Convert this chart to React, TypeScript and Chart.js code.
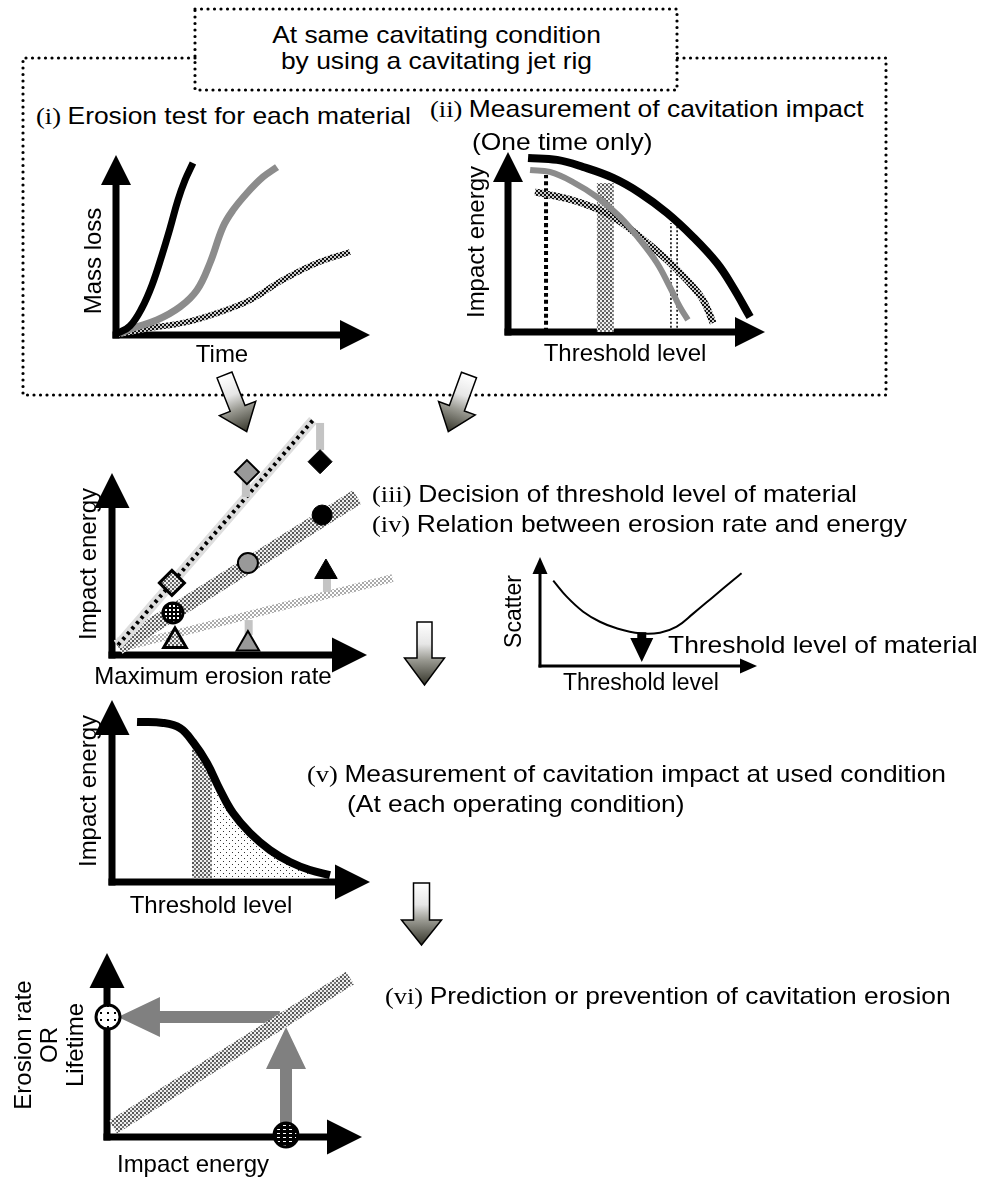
import React, { useEffect, useRef } from 'react';
import { Chart, registerables } from 'chart.js';

Chart.register(...registerables);

const SANS = '"Liberation Sans", Arial, Helvetica, sans-serif';
const SERIF = '"Liberation Serif", "Times New Roman", serif';
Chart.defaults.font.family = SANS;

// ---------------- (i) Erosion test: time vs mass loss ----------------
const timeBlack = [0.05, 0.55, 1.02, 1.42, 1.81, 2.13, 2.44, 2.72, 3.03];
const lossBlack = [0.08, 0.5, 1.5, 2.78, 4.44, 5.94, 7.5, 8.61, 9.56];
const timeGray = [0.15, 0.67, 1.61, 2.52, 3.19, 3.7, 4.21, 4.61, 5.16, 5.79, 6.34];
const lossGray = [0.08, 0.39, 0.83, 1.56, 2.5, 4.0, 6.0, 6.94, 7.89, 8.78, 9.33];
const timeCheck = [0.1, 1.34, 2.64, 3.98, 5.28, 6.57, 7.91, 9.21];
const lossCheck = [0.05, 0.39, 0.67, 1.22, 1.94, 3.06, 4.0, 4.61];

// ---------------- (ii) Impact energy vs threshold level ----------------
const thrBlack = [0.78, 1.91, 2.92, 4.09, 5.14, 6.19, 7.2, 8.13, 8.75, 9.42];
const energyBlack = [9.67, 9.56, 9.17, 8.56, 7.72, 6.61, 5.28, 3.83, 2.5, 0.83];
const thrGray = [0.86, 1.63, 2.53, 3.46, 4.36, 5.14, 5.8, 6.3, 6.69, 7.0];
const energyGray = [9.0, 8.89, 8.33, 7.5, 6.39, 5.11, 3.83, 2.5, 1.39, 0.67];
const thrCheck = [1.05, 2.02, 3.07, 4.09, 5.14, 6.19, 6.96, 7.59, 7.98];
const energyCheck = [7.78, 7.5, 7.06, 6.39, 5.28, 4.0, 2.89, 1.78, 0.5];
const thrDashed = 1.48;
const dashedTop = 8.72;
const thrBand = 3.79;
const bandTop = 8.28;
const thrDotted = [6.34, 6.58];
const dottedTop = 6.06;

// ---------------- (iii)/(iv) Impact energy vs maximum erosion rate ----------------
const relStartRate = [0.24, 0.24, 0.31];
const relStartEnergy = [0.55, 0.44, 0.38];
const relEndRate = [7.88, 9.61, 11.0];
const relEndEnergy = [12.9, 8.68, 4.23];
const markerRate = [5.29, 8.16, 8.24, 5.33, 8.39, 2.35, 2.39, 2.47, 5.33];
const markerEnergy = [10.05, 10.62, 7.69, 5.05, 4.56, 3.96, 2.31, 0.77, 0.6];
const shiftRate = [5.25, 8.16, 8.43, 5.36];
const shiftFrom = [8.68, 11.26, 3.46, 1.1];
const shiftTo = [9.62, 12.75, 4.23, 1.92];

// ---------------- Scatter vs threshold level ----------------
const scatterThr = [0.61, 1.23, 1.99, 2.76, 3.53, 4.61, 5.53, 6.3, 7.07, 7.99, 8.91, 9.29];
const scatterVal = [7.83, 6.36, 4.98, 4.06, 3.46, 3.0, 3.06, 3.61, 4.83, 6.36, 7.89, 8.51];
const optimumThr = 4.69;
const optimumFrom = 3.1;
const optimumTo = 0.37;

// ---------------- (v) Impact energy at used condition ----------------
const usedThr = [0.97, 1.98, 2.64, 3.14, 3.68, 4.19, 4.69, 5.35, 6.12, 6.9, 7.67, 8.45];
const usedEnergy = [8.79, 8.74, 8.46, 7.69, 6.54, 5.05, 3.79, 2.69, 1.76, 1.1, 0.66, 0.38];
const bandThr = [3.1, 3.4, 3.68, 3.88];
const bandEnergy = [7.55, 7.1, 6.54, 5.96];
const aboveThr = [3.88, 4.19, 4.69, 5.35, 6.12, 6.9, 7.67, 8.45];
const aboveEnergy = [5.96, 5.05, 3.79, 2.69, 1.76, 1.1, 0.66, 0.38];

// ---------------- (vi) Erosion rate / lifetime vs impact energy ----------------
const predEnergy = [0.24, 9.53];
const predRate = [0.54, 8.64];
const inputEnergy = 7.02;
const inputStart = 0.22;
const inputEnd = 5.98;
const outputRate = 6.52;
const outputStart = 6.78;
const outputEnd = 0.43;
const pointEnergy = [0.04, 7.02];
const pointRate = [6.52, 0.11];

const pts = (xs: number[], ys: number[]) => xs.map((x, i) => ({ x, y: ys[i] }));

function makePattern(w: number, h: number, bg: string, cells: [number, number, number, number, string][]) {
  const c = document.createElement('canvas');
  c.width = w;
  c.height = h;
  const g = c.getContext('2d')!;
  g.fillStyle = bg;
  g.fillRect(0, 0, w, h);
  for (const [x, y, cw, ch, col] of cells) {
    g.fillStyle = col;
    g.fillRect(x, y, cw, ch);
  }
  return g.createPattern(c, 'repeat')!;
}

function patterns() {
  return {
    dark: makePattern(4, 4, '#cccccc', [[0, 0, 2, 2, '#111'], [2, 2, 2, 2, '#111']]),
    light: makePattern(4, 4, '#eeeeee', [[0, 0, 2, 2, '#555'], [2, 2, 2, 2, '#777']]),
    pale: makePattern(4, 4, '#ffffff', [[0, 0, 2, 2, '#aaa'], [2, 2, 2, 2, '#aaa']]),
    dots: makePattern(6, 6, '#ffffff', [[0, 0, 1, 1, '#333'], [3, 3, 1, 1, '#333']]),
    blackSpots: makePattern(4, 4, '#000000', [[1, 1, 2, 2, '#fff']]),
    whiteSpecks: makePattern(7, 7, '#ffffff', [[2, 2, 2, 2, '#000']]),
    blackDashes: makePattern(6, 4, '#000000', [[1, 1, 3, 1, '#fff']]),
  };
}

// ---- plugins ----
const arrowAxes = {
  id: 'arrowAxes',
  beforeDatasetsDraw(chart: any, _a: any, o: any) {
    if (!o || !o.lw) return;
    const { ctx } = chart;
    const x = chart.scales.x;
    const y = chart.scales.y;
    const x0 = x.getPixelForValue(0);
    const y0 = y.getPixelForValue(0);
    const xt = x.getPixelForValue(10);
    const yt = y.getPixelForValue(10);
    ctx.save();
    ctx.strokeStyle = '#000';
    ctx.fillStyle = '#000';
    ctx.lineWidth = o.lw;
    ctx.lineCap = 'butt';
    ctx.beginPath();
    ctx.moveTo(x0, y0 + o.lw / 2);
    ctx.lineTo(x0, yt + o.head - 1);
    ctx.stroke();
    ctx.beginPath();
    ctx.moveTo(x0 - o.lw / 2, y0);
    ctx.lineTo(xt - o.head + 1, y0);
    ctx.stroke();
    ctx.beginPath();
    ctx.moveTo(x0, yt);
    ctx.lineTo(x0 - o.half, yt + o.head);
    ctx.lineTo(x0 + o.half, yt + o.head);
    ctx.closePath();
    ctx.fill();
    ctx.beginPath();
    ctx.moveTo(xt, y0);
    ctx.lineTo(xt - o.head, y0 - o.half);
    ctx.lineTo(xt - o.head, y0 + o.half);
    ctx.closePath();
    ctx.fill();
    ctx.restore();
  },
};

const arrowMarks = {
  id: 'arrowMarks',
  beforeDatasetsDraw(chart: any, _a: any, o: any) {
    if (!o || !o.items) return;
    const { ctx } = chart;
    const x = chart.scales.x;
    const y = chart.scales.y;
    for (const it of o.items) {
      const x1 = x.getPixelForValue(it.from[0]);
      const y1 = y.getPixelForValue(it.from[1]);
      const x2 = x.getPixelForValue(it.to[0]);
      const y2 = y.getPixelForValue(it.to[1]);
      const len = Math.hypot(x2 - x1, y2 - y1);
      const ang = Math.atan2(y2 - y1, x2 - x1);
      const s = o.shaft / 2;
      const h = o.head;
      const w = o.half;
      ctx.save();
      ctx.translate(x1, y1);
      ctx.rotate(ang);
      ctx.fillStyle = o.color;
      ctx.beginPath();
      ctx.moveTo(0, -s);
      ctx.lineTo(len - h, -s);
      ctx.lineTo(len - h, -w);
      ctx.lineTo(len, 0);
      ctx.lineTo(len - h, w);
      ctx.lineTo(len - h, s);
      ctx.lineTo(0, s);
      ctx.closePath();
      ctx.fill();
      ctx.restore();
    }
  },
};

type Frame = {
  rect: [number, number, number, number];
  origin: [number, number];
  tip: [number, number];
  areaRight: number;
  areaTop: number;
  yTitle: string | string[];
  yTitleX: number;
  yFont: number;
  yLH: number;
  xTitle: string;
  xTitleY: number;
  xTitleCX?: number;
  xFont: number;
  axis: { lw: number; head: number; half: number };
};

function frameOptions(f: Frame, extra: any = {}) {
  const [L, T, W, H] = f.rect;
  const [ox, oy] = f.origin;
  const [tx, ty] = f.tip;
  const n = Array.isArray(f.yTitle) ? f.yTitle.length : 1;
  const LHy = f.yLH;
  const LHx = f.xFont;
  const padL = f.yTitleX - LHy / 2 - L;
  // When a centred x label is wanted, a full-width bottom title is used and the right padding centres it.
  const usePluginTitle = typeof f.xTitleCX === 'number';
  const padR = usePluginTitle ? W + padL - 2 * ((f.xTitleCX as number) - L) : L + W - f.areaRight;
  const areaRight = L + W - padR;
  const xmax = (10 * (areaRight - ox)) / (tx - ox);
  const ymax = (10 * (oy - f.areaTop)) / (oy - ty);
  const xTitleFont = { family: SANS, size: f.xFont, lineHeight: 1, weight: 'normal' };
  const xTitlePad = { top: f.xTitleY - LHx / 2 - oy, bottom: 0 };
  return {
    responsive: false,
    animation: false,
    events: [],
    layout: {
      autoPadding: false,
      padding: {
        left: padL,
        right: padR,
        top: f.areaTop - T,
        bottom: T + H - (f.xTitleY + LHx / 2),
      },
    },
    plugins: {
      legend: { display: false },
      tooltip: { enabled: false },
      title: usePluginTitle
        ? { display: true, position: 'bottom', text: f.xTitle, color: '#000', font: xTitleFont, padding: xTitlePad }
        : { display: false },
      arrowAxes: f.axis,
      ...extra,
    },
    scales: {
      x: {
        type: 'linear',
        min: 0,
        max: xmax,
        grid: { display: false, drawTicks: false },
        border: { display: false },
        ticks: { display: false },
        title: {
          display: !usePluginTitle,
          text: f.xTitle,
          color: '#000',
          font: xTitleFont,
          padding: xTitlePad,
        },
      },
      y: {
        type: 'linear',
        min: 0,
        max: ymax,
        grid: { display: false, drawTicks: false },
        border: { display: false },
        ticks: { display: false },
        title: {
          display: true,
          text: f.yTitle,
          color: '#000',
          font: { family: SANS, size: f.yFont, lineHeight: LHy / f.yFont, weight: 'normal' },
          padding: { top: 0, bottom: ox - (f.yTitleX - LHy / 2) - n * LHy },
        },
      },
    },
  };
}

const curve = (data: any[], color: any, width: number, extra: any = {}) => ({
  data,
  borderColor: color,
  borderWidth: width,
  pointRadius: 0,
  fill: false,
  tension: 0.4,
  clip: false,
  borderCapStyle: 'butt',
  ...extra,
});

const BIG = { lw: 7, head: 30, half: 15 };
const BIG2 = { lw: 7, head: 35, half: 17.5 };

// ---------- chart configs ----------
const frameI: Frame = {
  rect: [60, 140, 330, 240], origin: [116, 335], tip: [370, 155], areaRight: 328, areaTop: 187,
  yTitle: 'Mass loss', yTitleX: 94, yFont: 24, yLH: 28.8, xTitle: 'Time', xTitleY: 355, xFont: 24, axis: BIG,
};
function configI() {
  const p = patterns();
  return {
    type: 'line',
    data: {
      datasets: [
        curve(pts(timeBlack, lossBlack), '#000', 7),
        curve(pts(timeGray, lossGray), '#8c8c8c', 7),
        curve(pts(timeCheck, lossCheck), p.dark, 6),
      ],
    },
    options: frameOptions(frameI),
    plugins: [arrowAxes],
  };
}

const frameII: Frame = {
  rect: [450, 140, 340, 240], origin: [508, 332], tip: [765, 152], areaRight: 742, areaTop: 152,
  yTitle: 'Impact energy', yTitleX: 477, yFont: 24, yLH: 28.8, xTitle: 'Threshold level', xTitleY: 354, xFont: 24, axis: BIG,
};
function configII() {
  const p = patterns();
  return {
    type: 'line',
    data: {
      datasets: [
        curve(pts(thrBlack, energyBlack), '#000', 8),
        curve(pts(thrGray, energyGray), '#8c8c8c', 6),
        curve(pts(thrCheck, energyCheck), p.dark, 7),
        curve(pts([thrDotted[0], thrDotted[0]], [0, dottedTop]), '#000', 1.5, { borderDash: [2, 2] }),
        curve(pts([thrDotted[1], thrDotted[1]], [0, dottedTop]), '#000', 1.5, { borderDash: [2, 2] }),
        curve(pts([thrDashed, thrDashed], [0, dashedTop]), '#000', 4, { borderDash: [4, 3] }),
        curve(pts([thrBand, thrBand], [0, bandTop]), p.light, 17),
      ],
    },
    options: frameOptions(frameII),
    plugins: [arrowAxes],
  };
}

const frameIII: Frame = {
  rect: [40, 400, 380, 300], origin: [112, 655], tip: [367, 473], areaRight: 351, areaTop: 473,
  yTitle: 'Impact energy', yTitleX: 89, yFont: 24, yLH: 28.8, xTitle: 'Maximum erosion rate', xTitleY: 677, xTitleCX: 213,
  xFont: 24, axis: BIG2,
};
function configIII() {
  const p = patterns();
  const rel = (i: number) => pts([relStartRate[i], relEndRate[i]], [relStartEnergy[i], relEndEnergy[i]]);
  const bars = shiftRate.map((r, i) => curve(pts([r, r], [shiftFrom[i], shiftTo[i]]), '#c4c4c4', 8));
  return {
    type: 'line',
    data: {
      datasets: [
        {
          data: pts(markerRate, markerEnergy),
          showLine: false,
          clip: false,
          pointStyle: ['rectRot', 'rectRot', 'circle', 'circle', 'triangle', 'rectRot', 'circle', 'triangle', 'triangle'],
          pointRadius: [12, 12, 10, 10, 13, 12.5, 10, 13, 13],
          pointBackgroundColor: ['#999', '#000', '#000', '#999', '#000', p.light, p.blackSpots, p.light, '#999'],
          pointBorderColor: '#000',
          pointBorderWidth: [2, 1, 1, 2, 1, 3, 3, 3, 2],
        },
        ...bars,
        curve(rel(0), '#000', 4, { borderDash: [3, 4] }),
        curve(rel(0), '#dedede', 10),
        curve(rel(1), p.light, 16),
        curve(rel(2), p.pale, 8),
      ],
    },
    options: frameOptions(frameIII),
    plugins: [arrowAxes],
  };
}

const frameS: Frame = {
  rect: [480, 540, 300, 170], origin: [540, 666], tip: [757, 557], areaRight: 742, areaTop: 557,
  yTitle: 'Scatter', yTitleX: 515, yFont: 23, yLH: 27.6, xTitle: 'Threshold level', xTitleY: 684, xFont: 23,
  axis: { lw: 3, head: 17, half: 7.5 },
};
function configS() {
  return {
    type: 'line',
    data: { datasets: [curve(pts(scatterThr, scatterVal), '#000', 2)] },
    options: frameOptions(frameS, {
      arrowMarks: { color: '#000', shaft: 9, head: 24, half: 11.5, items: [{ from: [optimumThr, optimumFrom], to: [optimumThr, optimumTo] }] },
    }),
    plugins: [arrowAxes, arrowMarks],
  };
}

const frameV: Frame = {
  rect: [40, 690, 360, 235], origin: [112, 882], tip: [370, 700], areaRight: 310, areaTop: 700,
  yTitle: 'Impact energy', yTitleX: 89, yFont: 24, yLH: 28.8, xTitle: 'Threshold level', xTitleY: 906, xFont: 24, axis: BIG2,
};
function configV() {
  const p = patterns();
  const area = (d: any[], bg: any) => ({
    data: d, borderWidth: 0, borderColor: 'rgba(0,0,0,0)', backgroundColor: bg, pointRadius: 0,
    fill: { value: 0.2 }, tension: 0.4, clip: false,
  });
  return {
    type: 'line',
    data: {
      datasets: [
        curve(pts(usedThr, usedEnergy), '#000', 8),
        area(pts(bandThr, bandEnergy), p.light),
        area(pts(aboveThr, aboveEnergy), p.dots),
      ],
    },
    options: frameOptions(frameV),
    plugins: [arrowAxes],
  };
}

const frameVI: Frame = {
  rect: [0, 940, 400, 238], origin: [107, 1137], tip: [362, 953], areaRight: 279, areaTop: 953,
  yTitle: ['Erosion rate', 'OR', 'Lifetime'], yTitleX: 24, yFont: 24, yLH: 26, xTitle: 'Impact energy', xTitleY: 1165, xFont: 24, axis: BIG2,
};
function configVI() {
  const p = patterns();
  return {
    type: 'line',
    data: {
      datasets: [
        {
          data: pts(pointEnergy, pointRate),
          showLine: false,
          clip: false,
          pointStyle: 'circle',
          pointRadius: 12,
          pointBackgroundColor: [p.whiteSpecks, p.blackDashes],
          pointBorderColor: '#000',
          pointBorderWidth: 3,
        },
        curve(pts(predEnergy, predRate), p.light, 15),
      ],
    },
    options: frameOptions(frameVI, {
      arrowMarks: {
        color: '#808080', shaft: 12, head: 42, half: 20,
        items: [
          { from: [inputEnergy, inputStart], to: [inputEnergy, inputEnd] },
          { from: [outputStart, outputRate], to: [outputEnd, outputRate] },
        ],
      },
    }),
    plugins: [arrowAxes, arrowMarks],
  };
}

function ChartCanvas({ rect, make }: { rect: [number, number, number, number]; make: () => any }) {
  const ref = useRef<HTMLCanvasElement>(null);
  useEffect(() => {
    const chart = new Chart(ref.current as HTMLCanvasElement, make());
    return () => chart.destroy();
  }, []);
  const [L, T, W, H] = rect;
  return (
    <canvas
      ref={ref}
      width={W}
      height={H}
      style={{ position: 'absolute', left: L, top: T, width: W, height: H }}
    />
  );
}

function BlockArrow({ id, tail, tip, sh, hh, hl }: any) {
  const dx = tip[0] - tail[0];
  const dy = tip[1] - tail[1];
  const len = Math.hypot(dx, dy);
  const ux = dx / len;
  const uy = dy / len;
  const nx = -uy;
  const ny = ux;
  const bx = tip[0] - ux * hl;
  const by = tip[1] - uy * hl;
  const P = [
    [tail[0] + nx * sh, tail[1] + ny * sh],
    [bx + nx * sh, by + ny * sh],
    [bx + nx * hh, by + ny * hh],
    [tip[0], tip[1]],
    [bx - nx * hh, by - ny * hh],
    [bx - nx * sh, by - ny * sh],
    [tail[0] - nx * sh, tail[1] - ny * sh],
  ];
  return (
    <g>
      <defs>
        <linearGradient id={id} gradientUnits="userSpaceOnUse" x1={tail[0]} y1={tail[1]} x2={tip[0]} y2={tip[1]}>
          <stop offset="0" stopColor="#ffffff" />
          <stop offset="0.35" stopColor="#e6e6e6" />
          <stop offset="0.6" stopColor="#9a9a92" />
          <stop offset="1" stopColor="#35352a" />
        </linearGradient>
      </defs>
      <polygon points={P.map((q) => q.join(',')).join(' ')} fill={`url(#${id})`} stroke="#000" strokeWidth={1.5} strokeLinejoin="miter" />
    </g>
  );
}

function Decor() {
  const dot = { fill: 'none', stroke: '#000', strokeWidth: 3.2, strokeDasharray: '0 6.5', strokeLinecap: 'round' as const };
  return (
    <svg width={981} height={1178} style={{ position: 'absolute', left: 0, top: 0 }}>
      <path d="M195 58 H23 V395 H886 V58 H677" {...dot} />
      <rect x={195} y={9} width={482} height={81} {...dot} />
      <BlockArrow id="ga1" tail={[224.5, 375]} tip={[246.7, 431.7]} sh={8} hh={19.5} hl={25} />
      <BlockArrow id="ga2" tail={[469, 375]} tip={[448.3, 431.7]} sh={8} hh={19.5} hl={25} />
      <BlockArrow id="ga3" tail={[424.5, 622]} tip={[424.5, 685]} sh={7.5} hh={20} hl={27} />
      <BlockArrow id="ga4" tail={[421.5, 883]} tip={[421.5, 945]} sh={8} hh={20} hl={25} />
    </svg>
  );
}

function Label({ x, cy, num, text }: { x: number; cy: number; num?: string; text: string }) {
  return (
    <div
      style={{
        position: 'absolute', left: x, top: cy - 14, fontSize: 24, lineHeight: '28px', whiteSpace: 'nowrap',
        transform: 'scaleX(1.1)', transformOrigin: '0 0', fontFamily: SANS, color: '#000',
      }}
    >
      {num ? <span style={{ fontFamily: SERIF }}>{num} </span> : null}
      {text}
    </div>
  );
}

function Centered({ cy, text }: { cy: number; text: string }) {
  return (
    <div
      style={{
        position: 'absolute', left: 195, width: 483, top: cy - 14, fontSize: 24, lineHeight: '28px', textAlign: 'center',
        whiteSpace: 'nowrap', transform: 'scaleX(1.1)', transformOrigin: '50% 0', fontFamily: SANS, color: '#000',
      }}
    >
      {text}
    </div>
  );
}

export default function App() {
  return (
    <div style={{ position: 'absolute', left: 0, top: 0, width: 981, height: 1178, overflow: 'hidden', background: '#fff' }}>
      <Decor />
      <ChartCanvas rect={frameI.rect} make={configI} />
      <ChartCanvas rect={frameII.rect} make={configII} />
      <ChartCanvas rect={frameIII.rect} make={configIII} />
      <ChartCanvas rect={frameS.rect} make={configS} />
      <ChartCanvas rect={frameV.rect} make={configV} />
      <ChartCanvas rect={frameVI.rect} make={configVI} />
      <Centered cy={35} text="At same cavitating condition" />
      <Centered cy={61} text="by using a cavitating jet rig" />
      <Label x={36} cy={115.5} num="(i)" text="Erosion test for each material" />
      <Label x={430} cy={108.5} num="(ii)" text="Measurement of cavitation impact" />
      <Label x={472} cy={141.5} text="(One time only)" />
      <Label x={372} cy={493.5} num="(iii)" text="Decision of threshold level of material" />
      <Label x={372} cy={523.5} num="(iv)" text="Relation between erosion rate and energy" />
      <Label x={668} cy={645} text="Threshold level of material" />
      <Label x={307} cy={774} num="(v)" text="Measurement of cavitation impact at used condition" />
      <Label x={347} cy={803.5} text="(At each operating condition)" />
      <Label x={385} cy={996} num="(vi)" text="Prediction or prevention of cavitation erosion" />
    </div>
  );
}
